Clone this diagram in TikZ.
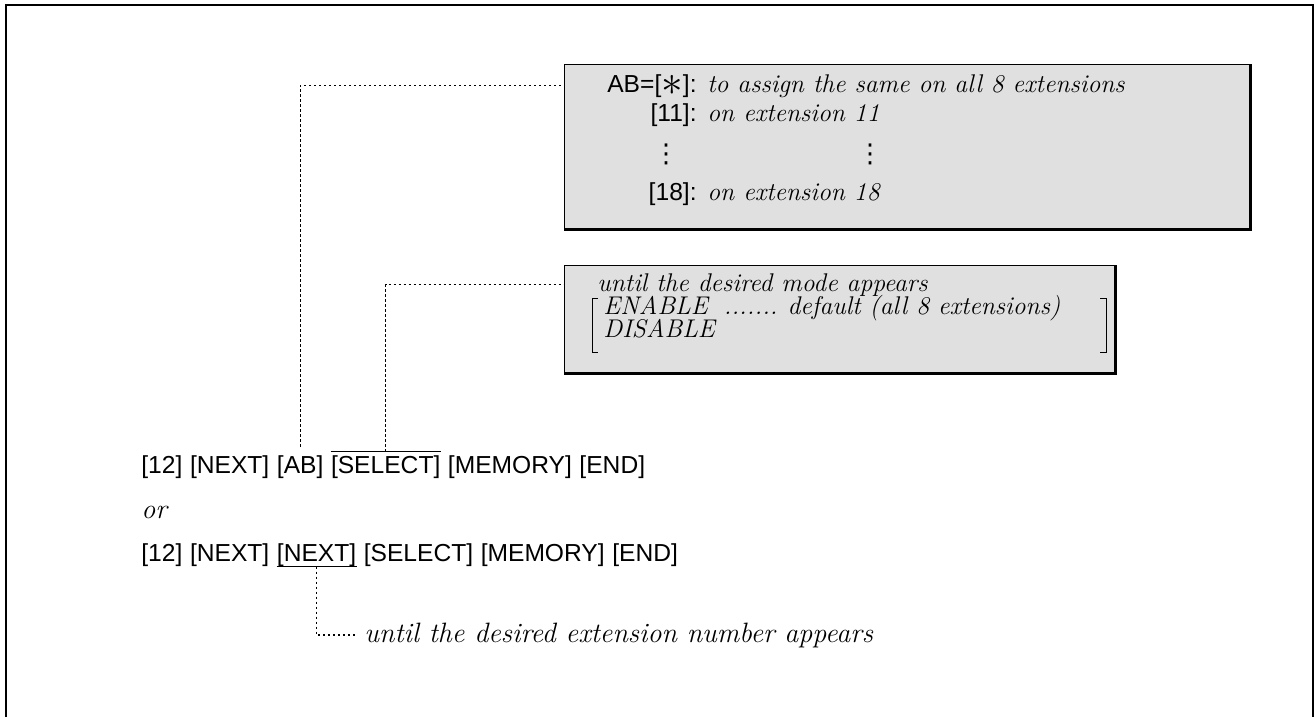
\documentclass[tikz,border=0pt]{standalone}
\usepackage{fontspec}
\setsansfont{Liberation Sans}
\newfontfamily\symfont{DejaVu Sans}
\usetikzlibrary{positioning}
\definecolor{screen}{gray}{0.88}

\begin{document}
\begin{tikzpicture}[x=0.5pt,y=-0.5pt,node distance=3.4pt,
  key/.style={font=\sffamily\fontsize{12.3}{15}\selectfont,inner sep=0pt},
  note/.style={font=\itshape\fontsize{12.8}{15}\selectfont,inner sep=0pt},
  bignote/.style={note,font=\itshape\fontsize{14}{17}\selectfont},
  dots/.style={font=\symfont\fontsize{13}{15}\selectfont,inner sep=0pt},
  panel/.style={draw,line width=0.7pt,fill=screen,anchor=north west,inner sep=0pt},
  lead/.style={line width=0.6pt,dash pattern=on 1.2pt off 1.3pt},
  brk/.style={line width=0.5pt},
  frame/.style={line width=1pt}]
  \useasboundingbox (0,0) rectangle (1315,717);
  \draw[frame] (6,717) -- (6,5) -- (1313,5) -- (1313,717);
  % the two shaded notes
  \node[panel,minimum width=342.5pt,minimum height=82pt] (box1) at (564,64) {};
  \draw[line width=1.3pt] (box1.north east) -- (box1.south east) -- (box1.south west);
  \node[panel,minimum width=275pt,minimum height=53.5pt] (box2) at (564,265) {};
  \draw[line width=1.3pt] (box2.north east) -- (box2.south east) -- (box2.south west);
  \node[key,anchor=base east] (abl) at (697,92) {AB=[\raisebox{-0.25ex}{\scalebox{1.8}{$\ast$}}]:};
  \node[note,base right=5pt of abl] (all) {to assign the same on all 8 extensions};
  \node[key,anchor=base east] (e11) at (697,121) {[11]:};
  \node[note,base right=5pt of e11] (t11) {on extension 11};
  \node[dots] (d1) at (666,154) {⋮};
  \node[dots] (d2) at (870,154) {⋮};
  \node[key,anchor=base east] (e18) at (697,200) {[18]:};
  \node[note,base right=5pt of e18] (t18) {on extension 18};
  \node[note,anchor=base west] (mode) at (597,291) {until the desired mode appears};
  \node[note,anchor=base west] (en) at (603,314) {ENABLE\hspace{8pt}.......\hspace{5pt}default (all 8 extensions)};
  \node[note,anchor=base west] (dis) at (603,337) {DISABLE};
  \draw[brk] (598,298) -- (592,298) -- (592,352) -- (598,352);
  \draw[brk] (1100,298) -- (1106,298) -- (1106,352) -- (1100,352);
  % key sequence
  \node[key,anchor=base west] (a1) at (141,473) {[12]};
  \node[key,base right=of a1] (a2) {[NEXT]};
  \node[key,base right=of a2] (a3) {[AB]};
  \node[key,base right=of a3] (a4) {[SELECT]};
  \node[key,base right=of a4] (a5) {[MEMORY]};
  \node[key,base right=of a5] (a6) {[END]};
  \draw ([yshift=1.5pt]a4.north west) -- ([yshift=1.5pt]a4.north east);
  \node[bignote,anchor=base west] (or) at (141,518) {or};
  \node[key,anchor=base west] (b1) at (141,561) {[12]};
  \node[key,base right=of b1] (b2) {[NEXT]};
  \node[key,base right=of b2] (b3) {[NEXT]};
  \node[key,base right=of b3] (b4) {[SELECT]};
  \node[key,base right=of b4] (b5) {[MEMORY]};
  \node[key,base right=of b5] (b6) {[END]};
  \draw (b3.south west) -- (b3.south east);
  \node[bignote,anchor=base west] (extn) at (364,642) {until the desired extension number appears};
  % leaders
  \draw[lead] ([yshift=4pt]a3.north) |- (box1.west |- abl);
  \draw[lead] ([yshift=1.5pt]a4.north) |- (box2.west |- mode);
  \draw[lead,shorten >=3pt] (b3.south) |- (extn.west);
\end{tikzpicture}
\end{document}
